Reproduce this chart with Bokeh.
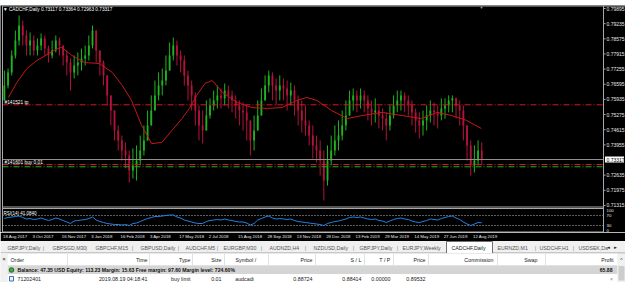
from bokeh.plotting import figure
from bokeh.layouts import column
from bokeh.models import ColumnDataSource, Range1d, Label
from bokeh.embed import file_html
from bokeh.resources import INLINE
from bokeh.core.properties import value

FONT = "Liberation Sans"
W = 625

# ---------------- data ----------------
SYMBOL = "CADCHF,Daily"
HEADER_OHLC = ["0.73117", "0.73364", "0.72963", "0.73317"]
GROUP_DAYS = 4          # each drawn candle = 4 daily bars
first_open_x1e4 = 7589
close_x1e4 = [7654, 7711, 7785, 7850, 7915, 7872, 7828, 7850, 7807, 7828,
              7859, 7815, 7785, 7807, 7850, 7828, 7785, 7754, 7711, 7741,
              7754, 7772, 7785, 7828, 7894, 7807, 7754, 7698, 7611, 7545,
              7458, 7415, 7371, 7349, 7284, 7306, 7327, 7371, 7415, 7480,
              7545, 7611, 7654, 7676, 7719, 7785, 7828, 7785, 7763, 7698,
              7654, 7611, 7545, 7480, 7458, 7523, 7567, 7589, 7611, 7598,
              7632, 7611, 7589, 7567, 7545, 7537, 7502, 7415, 7458, 7523,
              7589, 7654, 7698, 7654, 7632, 7654, 7641, 7611, 7632, 7589,
              7545, 7502, 7480, 7436, 7393, 7371, 7327, 7240, 7327, 7371,
              7415, 7436, 7480, 7523, 7589, 7611, 7589, 7611, 7589, 7554,
              7537, 7545, 7523, 7510, 7480, 7523, 7567, 7589, 7611, 7589,
              7567, 7537, 7502, 7480, 7502, 7523, 7545, 7537, 7523, 7554,
              7567, 7589, 7598, 7567, 7545, 7480, 7393, 7306, 7327, 7371,
              7332]
high_x1e4 = [7719, 7728, 7807, 7894, 7959, 7937, 7894, 7885, 7872, 7859,
             7881, 7872, 7828, 7850, 7872, 7863, 7828, 7807, 7772, 7785,
             7798, 7815, 7828, 7872, 7915, 7894, 7807, 7763, 7698, 7611,
             7545, 7480, 7436, 7406, 7371, 7380, 7393, 7436, 7480, 7545,
             7611, 7676, 7711, 7728, 7785, 7841, 7863, 7850, 7807, 7785,
             7719, 7676, 7624, 7567, 7545, 7589, 7598, 7632, 7654, 7641,
             7663, 7654, 7632, 7611, 7589, 7580, 7567, 7502, 7523, 7589,
             7641, 7698, 7719, 7711, 7685, 7698, 7685, 7676, 7667, 7654,
             7611, 7589, 7567, 7502, 7480, 7436, 7415, 7371, 7393, 7436,
             7480, 7502, 7545, 7589, 7632, 7641, 7632, 7641, 7632, 7611,
             7589, 7598, 7567, 7554, 7537, 7567, 7611, 7632, 7632, 7624,
             7611, 7589, 7554, 7537, 7545, 7567, 7589, 7580, 7567, 7598,
             7598, 7611, 7611, 7602, 7589, 7567, 7480, 7415, 7393, 7415,
             7406]
low_x1e4 = [7589, 7641, 7698, 7772, 7828, 7828, 7785, 7785, 7785, 7785,
            7807, 7785, 7754, 7772, 7798, 7785, 7741, 7698, 7632, 7685,
            7698, 7719, 7741, 7763, 7815, 7754, 7698, 7654, 7567, 7480,
            7415, 7371, 7327, 7293, 7231, 7249, 7240, 7306, 7349, 7415,
            7480, 7545, 7589, 7611, 7654, 7719, 7763, 7741, 7711, 7654,
            7589, 7545, 7480, 7415, 7401, 7458, 7510, 7545, 7554, 7554,
            7567, 7554, 7537, 7510, 7480, 7458, 7415, 7349, 7371, 7458,
            7523, 7589, 7624, 7589, 7567, 7589, 7589, 7545, 7567, 7523,
            7480, 7449, 7436, 7393, 7336, 7319, 7262, 7153, 7218, 7306,
            7349, 7371, 7415, 7458, 7523, 7545, 7537, 7554, 7537, 7502,
            7480, 7493, 7467, 7458, 7415, 7458, 7510, 7537, 7545, 7537,
            7523, 7480, 7449, 7423, 7436, 7458, 7493, 7480, 7467, 7502,
            7510, 7537, 7537, 7510, 7480, 7415, 7327, 7262, 7275, 7306,
            7306]
ma_day = [6, 15, 26, 37, 48, 59, 64, 75, 89, 105, 119, 130, 140, 151, 162, 173, 184, 195, 203, 211,
          220, 228, 239, 255, 271, 288, 304, 320, 331, 342, 358, 375, 391, 413, 435, 456, 473, 489, 505, 521]
ma_x1e4 = [7602, 7667, 7728, 7763, 7789, 7815, 7820, 7785, 7754, 7750, 7711, 7654, 7589, 7480, 7401, 7406,
           7458, 7510, 7554, 7611, 7663, 7676, 7624, 7580, 7558, 7554, 7558, 7589, 7602, 7589, 7545, 7510,
           7523, 7537, 7523, 7510, 7537, 7523, 7502, 7467]
rsi_values = [58, 62, 64, 66, 68, 62,
              56, 58, 54, 56, 60, 55, 50, 54, 60, 56, 50,
              44, 38, 48, 50, 52, 54, 58, 64, 52,
              46, 42, 38, 36, 34, 34, 32, 34, 30, 38, 40, 46,
              52, 58, 62, 66, 66, 68, 70, 72, 72, 64, 60,
              52, 48, 44, 40, 38, 38, 46, 50, 52, 54, 52, 56, 52, 50,
              46, 44, 44, 40, 32, 38, 52, 58, 64, 68,
              60, 56, 58, 56, 54, 56, 50, 46, 44, 42, 40, 38, 36, 34, 30, 38,
              42, 46, 48, 52, 56, 62, 64, 62, 64, 60, 56, 54, 56,
              50, 48, 42, 48, 54, 58, 60, 56, 54, 48, 44, 42, 46,
              50, 56, 54, 52, 58, 62, 66, 68, 60, 54, 44, 36, 30, 36, 42, 41.084]
RSI_TEXT = "RSI(14) 41.0840"
price_ticks = [0.79895, 0.79235, 0.78575, 0.77915, 0.77255, 0.76595, 0.75935,
               0.75275, 0.74615, 0.73955, 0.72635, 0.71975, 0.71315]
rsi_ticks = [100, 70, 30, 0]
rsi_levels = [70, 30]
bid_price = 0.73317
tp_price = 0.7570
order_red_price = 0.7310
order_green_price = 0.7300
date_days = [0, 32, 64, 96, 128, 160, 192, 224, 256, 288, 320, 352, 384, 416, 448, 480, 512]
date_labels = ["18 Aug 2017", "3 Oct 2017", "16 Nov 2017", "3 Jan 2018", "16 Feb 2018", "3 Apr 2018",
               "17 May 2018", "2 Jul 2018", "15 Aug 2018", "28 Sep 2018", "13 Nov 2018", "28 Dec 2018",
               "13 Feb 2019", "29 Mar 2019", "14 May 2019", "27 Jun 2019", "12 Aug 2019"]
tabs = ["GBPJPY,Daily", "GBPSGD,M30", "GBPCHF,M15", "GBPUSD,Daily", "AUDCHF,M5", "EURGBP,M30",
        "AUDNZD,H4", "NZDUSD,Daily", "GBPJPY,Daily", "EURJPY,Weekly", "CADCHF,Daily", "EURNZD,M1",
        "USDCHF,H1", "USDSEK,Da"]
header_cols = ["Order", "Time", "Type", "Size", "Symbol  /", "Price", "S / L", "T / P", "Price",
               "Commission", "Swap", "Profit"]
order_row = ["71202401", "2019.08.19 04:18:41", "buy limit", "0.01", "audcadi", "0.88724",
             "0.88414", "0.00000", "0.89532"]
balance_text = "Balance: 47.35 USD  Equity: 113.23  Margin: 15.63  Free margin: 97.60  Margin level: 724.60%"
profit_total = "65.88"

# ---------------- geometry ----------------
DAY_PER_PX = 1 / 0.918                  # bar spacing
X0 = -0.545                              # day value at the chart's left border (page x = 2)
PAGE_TOP, PAGE_BOT = 5, 232              # page rows covered by the chart figure
PX_PRICE = 0.00043564                    # price per pixel
P_HI = 0.80026                           # price at page row 5
RSI_PX = 0.25                            # pixels per RSI unit (0 at row 232.5)
BG = "black"
FRAME = "#A8A8A8"
GREEN = "#1DB41D"
RED = "#B3123C"
TXT = "#E8E8E8"


def day_at(px):
    return X0 + (px - 2) * DAY_PER_PX


def price_at(py):
    return P_HI - (py - PAGE_TOP) * PX_PRICE


def rsi_at(py):
    return (232.5 - py) / RSI_PX


n = len(close_x1e4)
xs = [GROUP_DAYS * k + 1.5 for k in range(n)]
close = [c * 1e-4 for c in close_x1e4]
high = [h * 1e-4 for h in high_x1e4]
low = [l * 1e-4 for l in low_x1e4]
opens = [first_open_x1e4 * 1e-4] + close[:-1]
colors = [GREEN if c > o else RED for c, o in zip(close, opens)]
src = ColumnDataSource(dict(x=xs, high=high, low=low,
                            top=[max(o, c) for o, c in zip(opens, close)],
                            bottom=[min(o, c) for o, c in zip(opens, close)],
                            color=colors))

common = dict(output_backend="svg", toolbar_location=None)

# ---------------- top toolbar strip ----------------
top = figure(width=W, height=5, x_range=Range1d(0, W), y_range=Range1d(5, 0),
             x_axis_location=None, y_axis_location=None, min_border=0,
             background_fill_color="#F4F4F4", border_fill_color="#F4F4F4",
             outline_line_color=None, **common)
top.grid.visible = False
top.segment(x0=[0], y0=[4.5], x1=[W], y1=[4.5], line_color="#C8C8C8", line_width=1)

# ---------------- chart window: price pane, RSI pane, price scale ----------------
chart = figure(width=W, height=PAGE_BOT - PAGE_TOP,
               x_range=Range1d(day_at(0), day_at(W)),
               y_range=Range1d(price_at(PAGE_BOT), price_at(PAGE_TOP)),
               x_axis_location=None, y_axis_location=None, min_border=0,
               background_fill_color=BG, border_fill_color=BG, outline_line_color=None, **common)
chart.grid.visible = False
chart.extra_y_ranges = {"rsi": Range1d(rsi_at(PAGE_BOT), rsi_at(PAGE_TOP))}

L, R = day_at(2), day_at(603)          # pane borders

# candles
chart.segment(x0="x", y0="high", x1="x", y1="low", line_color="color", line_width=1, source=src)
chart.vbar(x="x", top="top", bottom="bottom", width=2.0, fill_color="color", line_color=None, source=src)
chart.line(ma_day, [m * 1e-4 for m in ma_x1e4], line_color="#C41818", line_width=1)

# order / price lines (end at the pane border)
chart.segment(x0=[L] * 3, x1=[R] * 3, y0=[tp_price, order_red_price, order_green_price],
              y1=[tp_price, order_red_price, order_green_price],
              line_color=["#D81818", "#D81818", "#18B418"], line_dash="6 2 1 2", line_width=1)
chart.segment(x0=[L], x1=[R], y0=[bid_price], y1=[bid_price], line_color="#909090", line_width=1)

# RSI pane
chart.segment(x0=[L] * 2, x1=[R] * 2, y0=rsi_levels, y1=rsi_levels, y_range_name="rsi",
              line_color="#B8B8B8", line_dash="1 2", line_width=1)
chart.line(xs, rsi_values, y_range_name="rsi", line_color="#2382E6", line_width=1)

# pane borders
rb = [rsi_at(5.5), rsi_at(206.5), rsi_at(208), rsi_at(231.5)]
chart.segment(x0=[L, L, L, L], x1=[day_at(625), R, R, R], y0=rb, y1=rb, y_range_name="rsi",
              line_color=FRAME, line_width=1)
chart.segment(x0=[L, R], x1=[L, R], y0=[rsi_at(5.5)] * 2, y1=[rsi_at(231.5)] * 2, y_range_name="rsi",
              line_color=FRAME, line_width=1)

# price scale (right)
tick_x0, tick_x1, lab_x = day_at(603), day_at(605), day_at(606)
chart.segment(x0=[tick_x0] * len(price_ticks), x1=[tick_x1] * len(price_ticks),
              y0=price_ticks, y1=price_ticks, line_color=FRAME)
chart.text(x=[lab_x] * len(price_ticks), y=price_ticks, text=["%.5f" % t for t in price_ticks],
           text_font=value(FONT), text_font_size="5px", text_color=TXT,
           text_align="left", text_baseline="middle")
chart.quad(left=[day_at(604.5)], right=[day_at(623.5)], top=[bid_price + 3 * PX_PRICE],
           bottom=[bid_price - 3 * PX_PRICE], fill_color="white", line_color=None)
chart.text(x=[lab_x], y=[bid_price], text=["%.5f" % bid_price], text_font=value(FONT),
           text_font_size="5px", text_color="black", text_align="left", text_baseline="middle")

# RSI scale (labels nudged inside the pane, as MT4 draws them)
rsi_label_rows = [210, 215, 225, 229.5]
chart.text(x=[lab_x] * len(rsi_ticks), y=[price_at(r) for r in rsi_label_rows],
           text=[str(t) for t in rsi_ticks], text_font=value(FONT), text_font_size="4.3px",
           text_color=TXT, text_align="left", text_baseline="middle")

lab = dict(text_font=FONT, text_color="white", text_baseline="middle", text_align="left")
chart.add_layout(Label(x=day_at(2.5), y=price_at(9), text="\u25BC " + SYMBOL + "  " + " ".join(HEADER_OHLC),
                       text_font_size="4.7px", **lab))
chart.add_layout(Label(x=day_at(4), y=price_at(101.5), text="#141521 tp", text_font_size="4.8px", **lab))
chart.add_layout(Label(x=day_at(4), y=price_at(161.5), text="#141601 buy 0.01", text_font_size="4.8px", **lab))
chart.add_layout(Label(x=day_at(3), y=rsi_at(212.5), y_range_name="rsi", text=RSI_TEXT,
                       text_font_size="4.5px", **lab))
chart.add_layout(Label(x=day_at(481), y=price_at(6.8), text="\u25BC", text_font_size="4px",
                       text_font=FONT, text_color="#A0A0A0", text_baseline="middle", text_align="center"))

# ---------------- time scale + terminal chrome (page rows 232..282) ----------------
bot = figure(width=W, height=50, x_range=Range1d(0, W), y_range=Range1d(282, 232),
             x_axis_location=None, y_axis_location=None, min_border=0,
             background_fill_color="#F0F0F0", border_fill_color="#F0F0F0", outline_line_color=None, **common)
bot.grid.visible = False
bot.extra_x_ranges = {"days": Range1d(day_at(0), day_at(W))}   # same day scale as the chart

# time scale band (MT4 date labels start at their bar)
bot.quad(left=[0], right=[W], top=[232], bottom=[240.5], fill_color=BG, line_color=None)
bot.text(x=date_days, y=[235.5] * len(date_days), x_range_name="days", text=date_labels,
         text_font=value(FONT), text_font_size="4.3px", text_color=TXT,
         text_align="left", text_baseline="middle")

tab_x = [7, 52, 95, 140, 185, 223, 269, 313, 359, 402, 451, 497, 539, 578]
tab_sep = [43, 86, 132, 178, 217, 261, 305, 353, 397, 535, 573]
bot.segment(x0=[0, 492], y0=[252.5, 252.5], x1=[446, W], y1=[252.5, 252.5], line_color="#A0A0A0")
bot.quad(left=[446], right=[492], top=[241], bottom=[253], fill_color="white", line_color="#707070")
bot.text(x=tab_x, y=[247.3] * len(tabs), text=tabs, text_font=value(FONT), text_font_size="5.2px",
         text_color=["#202020" if i == 10 else "#555555" for i in range(len(tabs))],
         text_align="left", text_baseline="middle")
bot.text(x=tab_sep, y=[247] * len(tab_sep), text=["|"] * len(tab_sep), text_font=value(FONT),
         text_font_size="6px", text_color="#909090", text_align="center", text_baseline="middle")
bot.text(x=[608, 615], y=[247, 247], text=["\u25C4", "\u25BA"], text_font=value(FONT),
         text_font_size="4.5px", text_color="#202020", text_align="center", text_baseline="middle")

bot.quad(left=[7], right=[617], top=[253], bottom=[282], fill_color="white", line_color=None)
bot.quad(left=[7], right=[617], top=[265.5], bottom=[273.5], fill_color="#D5D5D5", line_color=None)
sep_x = [67, 149, 192, 224, 268, 315, 364, 393, 428, 497, 545]
bot.segment(x0=sep_x, y0=[253] * len(sep_x), x1=sep_x, y1=[265] * len(sep_x), line_color="#E2E2E2")
bot.segment(x0=[7], y0=[265], x1=[617], y1=[265], line_color="#E2E2E2")
bot.segment(x0=[7], y0=[253], x1=[617], y1=[253], line_color="#E8E8E8")

hx = [10, 147, 190, 221, 235, 312, 361, 390, 425, 493, 537, 613]
ha = ["left", "right", "right", "right", "left", "right", "right", "right", "right", "right", "right", "right"]
bot.text(x=hx, y=[259.5] * len(hx), text=header_cols, text_font=value(FONT), text_font_size="5.3px",
         text_color="#202020", text_align=ha, text_baseline="middle")
ox = [17, 147, 190, 221, 244, 312, 361, 390, 425]
oa = ["left", "right", "right", "right", "center", "right", "right", "right", "right"]
bot.text(x=ox, y=[278] * len(ox), text=order_row, text_font=value(FONT), text_font_size="5.3px",
         text_color="#202020", text_align=oa, text_baseline="middle")
bot.text(x=[17], y=[269.5], text=[balance_text], text_font=value(FONT), text_font_size="5.1px",
         text_font_style="bold", text_color="#101010", text_align="left", text_baseline="middle")
bot.text(x=[612], y=[269.5], text=[profit_total], text_font=value(FONT), text_font_size="5.1px",
         text_font_style="bold", text_color="#101010", text_align="right", text_baseline="middle")
bot.scatter(x=[11], y=[269.5], size=4.5, marker="circle", fill_color="#3CB43C", line_color="#206020")
bot.quad(left=[9], right=[13], top=[276], bottom=[280.5], fill_color="#E8F0FF", line_color="#4070B0")
bot.quad(left=[0], right=[7], top=[252.5], bottom=[282], fill_color="#F0F0F0", line_color=None)
bot.text(x=[3.5], y=[258], text=["\u00D7"], text_font=value(FONT), text_font_size="6px",
         text_color="#202020", text_align="center", text_baseline="middle")
bot.text(x=[611], y=[278], text=["\u00D7"], text_font=value(FONT), text_font_size="5px",
         text_color="#808080", text_align="center", text_baseline="middle")
bot.quad(left=[617], right=[W], top=[253], bottom=[282], fill_color="#F0F0F0", line_color=None)
bot.quad(left=[618], right=[624], top=[265.5], bottom=[280], fill_color="#CDCDCD", line_color=None)
bot.text(x=[621], y=[259], text=["^"], text_font=value(FONT), text_font_size="5px",
         text_color="#303030", text_align="center", text_baseline="middle")

layout = column(top, chart, bot, spacing=0)
open("out.html", "w").write(file_html(layout, INLINE))
